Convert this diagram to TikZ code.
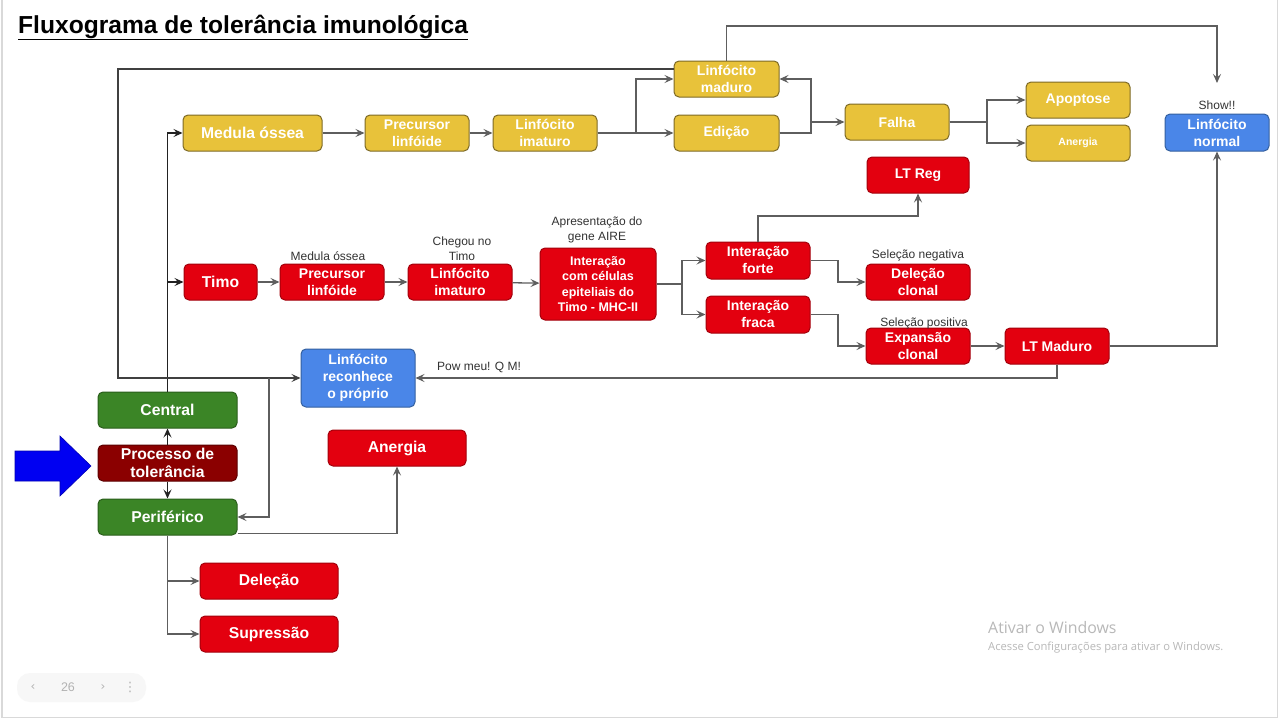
\documentclass[tikz,border=0pt]{standalone}
\usepackage{fontspec}
\setmainfont{Liberation Sans}
\newfontfamily\wmfont{Open Sans}
\newfontfamily\dejavu{DejaVu Sans}
\usetikzlibrary{arrows.meta}
\newcommand\myfs[2]{\fontsize{#1}{#2}\selectfont}
\definecolor{yel}{HTML}{E8C23A}
\definecolor{yelD}{HTML}{7D6A26}
\definecolor{red1}{HTML}{E3000F}
\definecolor{redD}{HTML}{A3000B}
\definecolor{blu}{HTML}{4A86E8}
\definecolor{bluD}{HTML}{34609F}
\definecolor{grn}{HTML}{3B8526}
\definecolor{grnD}{HTML}{2A5E1B}
\definecolor{dred}{HTML}{8B0000}
\definecolor{dredD}{HTML}{5C0000}
\definecolor{conncol}{HTML}{5E5E5E}
\definecolor{blkcol}{HTML}{222222}
\tikzset{
  box/.style={rounded corners=5pt, draw, line width=1pt, text=white, align=center,
    inner sep=1pt, font=\bfseries\myfs{14}{17}, minimum width=104pt, minimum height=36pt},
  big/.style={font=\bfseries\myfs{15.7}{18}},
  ybox/.style={box, fill=yel, draw=yelD},
  rbox/.style={box, fill=red1, draw=redD},
  bbox/.style={box, fill=blu, draw=bluD},
  gbox/.style={box, fill=grn, draw=grnD, big},
  dbox/.style={box, fill=dred, draw=dredD, big},
  conn/.style={draw=conncol, line width=1.3pt, -{Stealth[length=9pt,width=8pt,inset=3.5pt]}},
  blk/.style={draw=blkcol, line width=1.3pt, -{Stealth[length=9pt,width=8pt,inset=3.5pt]}},
  lbl/.style={font=\myfs{12}{15}, text=black!80, align=center, inner sep=0pt},
}
\begin{document}
\begin{tikzpicture}[x=1pt,y=-1pt]
\useasboundingbox (0,0) rectangle (1280,720);
\fill[white] (0,0) rectangle (1280,720);
\draw[black!15, line width=1.2pt] (2,0) -- (2,717.5) -- (1277.5,717.5) -- (1277.5,0);

% title
\node[anchor=base west, inner sep=0pt, font=\bfseries\myfs{24.6}{28}] (title) at (18,33) {\underline{Fluxograma de tolerância imunológica}};

% yellow row
\node[ybox, big, minimum width=139pt] (mo) at (252.5,133) {Medula óssea};
\node[ybox] (pl1) at (417,133) {Precursor\\linfóide};
\node[ybox] (li1) at (545,133) {Linfócito\\imaturo};
\node[ybox, minimum width=105pt] (lm) at (726.5,79) {Linfócito\\maduro};
\node[ybox, minimum width=105pt] (ed) at (726.5,133) {Edição};
\node[ybox] (fa) at (897,122) {Falha};
\node[ybox] (ap) at (1078,100) {Apoptose};
\node[ybox, font=\bfseries\myfs{10.5}{12}] (an1) at (1078,143) {Anergia};
\node[bbox, minimum height=37pt] (ln) at (1217,132.5) {Linfócito\\normal};
\node[lbl, anchor=base] (show) at (1217,109) {Show!!};
\coordinate (showtip) at (1217,83);

% red row
\node[rbox, minimum width=102pt] (ltreg) at (918,175) {LT Reg};
\node[rbox, big, minimum width=73pt] (timo) at (220.5,282) {Timo};
\node[rbox] (pl2) at (332,282) {Precursor\\linfóide};
\node[lbl, anchor=base] (lpl2) at (328,260) {Medula óssea};
\node[rbox] (li2) at (460,282) {Linfócito\\imaturo};
\node[lbl, anchor=base] (lli2) at (462,260.5) {Chegou no\\Timo};
\node[rbox, minimum width=116pt, minimum height=72pt, font=\bfseries\myfs{12.5}{15.5}] (ia) at (598,284) {Interação\\com células\\epiteliais do\\Timo - MHC-II};
\node[lbl, anchor=base] (lia) at (597,240.5) {Apresentação do\\gene AIRE};
\node[rbox, minimum height=37pt] (ifo) at (758,260.5) {Interação\\forte};
\node[rbox, minimum height=37pt] (ifr) at (758,314.5) {Interação\\fraca};
\node[rbox] (dc) at (918,282) {Deleção\\clonal};
\node[lbl, anchor=base] (ldc) at (918,258) {Seleção negativa};
\node[rbox] (ec) at (918,346) {Expansão\\clonal};
\node[lbl, anchor=base] (lec) at (924,326) {Seleção positiva};
\node[rbox] (ltm) at (1057,346) {LT Maduro};

% bottom-left
\node[bbox, minimum width=114pt, minimum height=58pt] (lr) at (358,378) {Linfócito\\reconhece\\o próprio};
\node[lbl, anchor=base west] (pow) at (437,370) {Pow meu! Q M!};
\node[gbox, minimum width=139pt] (cen) at (167.5,410) {Central};
\node[dbox, minimum width=139pt] (pt) at (167.5,463) {Processo de\\tolerância};
\node[gbox, minimum width=139pt] (per) at (167.5,517) {Periférico};
\node[rbox, big, minimum width=138pt] (an2) at (397,448) {Anergia};
\node[rbox, big, minimum width=138pt] (del) at (269,581) {Deleção};
\node[rbox, big, minimum width=138pt] (sup) at (269,634) {Supressão};

% big blue arrow
\fill[draw=blue!70!black, fill=blue!95!black, line width=0.6pt] (15,451) -- (60,451) -- (60,436) -- (91,466) -- (60,496) -- (60,481) -- (15,481) -- cycle;

% connectors
\draw[blk] (cen.north) |- (mo.west);
\draw[blk] (cen.north) |- (timo.west);
\draw[blk] (pt.north) -- (cen.south);
\draw[blk] (pt.south) -- (per.north);

\draw[conn] (mo) -- (pl1);
\draw[conn] (pl1) -- (li1);
\draw[conn] (li1.east) -- (636,133) |- (lm.west);
\draw[conn] (li1) -- (ed);
\draw[conn] (ed.east) -- (811,133) |- (lm.east);
\draw[conn] (ed.east) -- (811,133) |- (fa.west);
\draw[conn] (fa.east) -- (987,122) |- (ap.west);
\draw[conn] (fa.east) -- (987,122) |- (an1.west);
\draw[conn] (lm.north) -- (726.5,26) -| (showtip);
\draw[conn, draw=black!75] ([yshift=10pt]lm.west) -- (118,69) -- (118,378) -- (lr.west);
\draw[conn] (269,378) -- (269,517) -- (per.east);
\draw[conn] (ltm.south) |- (lr.east);
\draw[conn] (ltm.east) -| (ln.south);

\draw[conn] (timo) -- (pl2);
\draw[conn] (pl2) -- (li2);
\draw[conn] (li2) -- (ia);
\draw[conn] (ia.east) -- (682,284) |- (ifo.west);
\draw[conn] (ia.east) -- (682,284) |- (ifr.west);
\draw[conn] (ifo.north) -- (758,216) -| (ltreg.south);
\draw[conn] (ifo.east) -- (838,260.5) |- (dc.west);
\draw[conn] (ifr.east) -- (838,314.5) |- (ec.west);
\draw[conn] (ec) -- (ltm);

\draw[conn] ([yshift=2pt]per.south east) -| (an2.south);
\draw[conn] (per.south) |- (del.west);
\draw[conn] (per.south) |- (sup.west);

% watermark and page navigation
\node[anchor=base west, inner sep=0pt, text=black!28, font=\wmfont\myfs{15.9}{18}] (wm1) at (988,633) {Ativar o Windows};
\node[anchor=base west, inner sep=0pt, text=black!28, font=\wmfont\myfs{11.2}{12}] (wm2) at (988,650) {Acesse Configurações para ativar o Windows.};
\fill[black!3, rounded corners=13pt] (17,673) rectangle (146,702);
\node[text=black!30, font=\dejavu\myfs{12}{14}] (navl) at (33,687) {‹};
\node[text=black!30, font=\myfs{12.5}{14}] (navn) at (68,687) {26};
\node[text=black!30, font=\dejavu\myfs{12}{14}] (navr) at (103,687) {›};
\node[text=black!30, font=\dejavu\myfs{13}{14}] (navm) at (130,687) {⋮};
\end{tikzpicture}
\end{document}
